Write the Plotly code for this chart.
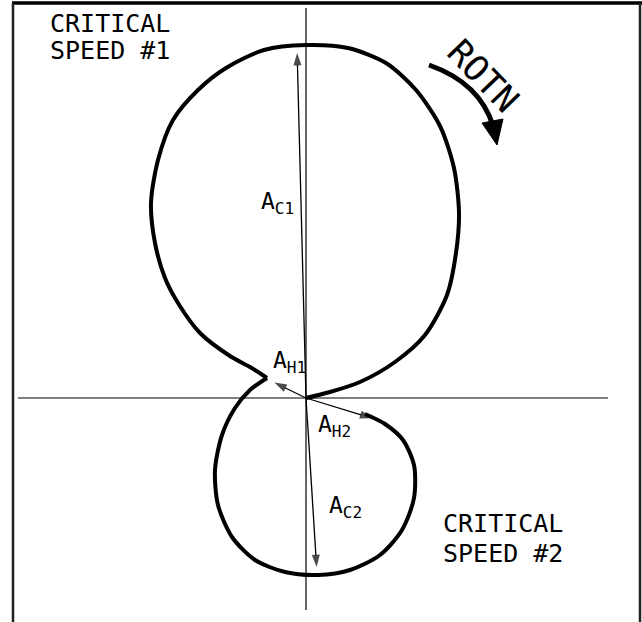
import plotly.graph_objects as go

# Polar (Nyquist) response of the shaft: horizontal / vertical components, mils
upper_x = [0.00, 0.24, 0.54, 0.89, 1.19, 1.41, 1.50, 1.53, 1.48, 1.34, 1.10, 0.80, 0.42, 0.00,
           -0.42, -0.80, -1.08, -1.33, -1.48, -1.55, -1.51, -1.41, -1.28, -1.06, -0.76, -0.56, -0.39]
upper_y = [0.00, 0.06, 0.16, 0.36, 0.63, 1.03, 1.45, 1.85, 2.30, 2.72, 3.08, 3.35, 3.50, 3.53,
           3.48, 3.30, 3.08, 2.78, 2.38, 1.95, 1.55, 1.20, 0.95, 0.65, 0.42, 0.31, 0.20]

lower_x = [-0.39, -0.56, -0.71, -0.84, -0.91, -0.88, -0.74, -0.51, -0.21, 0.12,
           0.44, 0.74, 0.96, 1.08, 1.08, 0.97, 0.79, 0.59]
lower_y = [0.20, 0.08, -0.10, -0.37, -0.72, -1.07, -1.39, -1.62, -1.74, -1.77,
           -1.72, -1.57, -1.32, -1.00, -0.67, -0.42, -0.26, -0.16]

# Response vectors (tip positions) at the critical speeds and half-power points
vec_names = ["A<sub>C1</sub>", "A<sub>C2</sub>", "A<sub>H1</sub>", "A<sub>H2</sub>"]
vec_x = [-0.09, 0.11, -0.37, 0.72]
vec_y = [3.51, -1.75, 0.18, -0.22]
lab_x = [-0.29, 0.39, -0.17, 0.28]
lab_y = [1.95, -1.09, 0.36, -0.28]

FONT = "DejaVu Sans Mono"

fig = go.Figure()
for xs, ys in ((upper_x, upper_y), (lower_x, lower_y)):
    fig.add_trace(go.Scatter(x=xs, y=ys, mode="lines",
                             line=dict(color="black", width=4, shape="spline", smoothing=0.8),
                             hoverinfo="skip", showlegend=False))

# Vectors from the origin, arrowhead at the tip
for vx, vy in zip(vec_x, vec_y):
    fig.add_trace(go.Scatter(
        x=[0, vx], y=[0, vy], mode="lines+markers",
        line=dict(color="black", width=1.3),
        marker=dict(symbol=["circle", "arrow"], size=[0, 13], color="black",
                    angleref="previous", standoff=6, line=dict(width=0)),
        hoverinfo="skip", showlegend=False))

# Reference axes through the origin
fig.add_shape(type="line", x0=-2.88, x1=3.02, y0=0, y1=0, line=dict(color="black", width=1.2))
fig.add_shape(type="line", x0=0, x1=0, y0=-2.12, y1=3.90, line=dict(color="black", width=1.2))

# Drawing frame
fig.add_shape(type="line", xref="paper", yref="paper", x0=12 / 642, x1=1, y0=1 - 3 / 622, y1=1 - 3 / 622,
              line=dict(color="black", width=3.5))
fig.add_shape(type="line", xref="paper", yref="paper", x0=13 / 642, x1=13 / 642, y0=0, y1=1 - 3 / 622,
              line=dict(color="#222", width=2.5))
fig.add_shape(type="line", xref="paper", yref="paper", x0=640 / 642, x1=640 / 642, y0=0, y1=1 - 3 / 622,
              line=dict(color="#222", width=2.5))

annotations = []
for name, lx, ly in zip(vec_names, lab_x, lab_y):
    annotations.append(dict(x=lx, y=ly, xref="x", yref="y", text=name, showarrow=False,
                            xanchor="center", yanchor="middle",
                            font=dict(family=FONT, size=23, color="black")))

# Critical speed captions, one annotation per line
captions = [("CRITICAL", -1.96, 3.745), ("SPEED #1", -1.96, 3.48),
            ("CRITICAL", 1.965, -1.25), ("SPEED #2", 1.965, -1.555)]
for txt, cx, cy in captions:
    annotations.append(dict(x=cx, y=cy, xref="x", yref="y", text=txt, showarrow=False,
                            xanchor="center", yanchor="middle",
                            font=dict(family=FONT, size=25, color="black")))

annotations.append(dict(x=1.77, y=3.22, xref="x", yref="y", text="ROTN", textangle=46,
                        showarrow=False, font=dict(family=FONT, size=35, color="black")))

# Direction-of-rotation arrow
fig.add_shape(type="path", path="M 1.23 3.33 Q 1.74 3.15 1.87 2.72",
              line=dict(color="black", width=5))
fig.add_shape(type="path", path="M 1.76 2.75 L 1.97 2.79 L 1.91 2.53 Z",
              fillcolor="black", line=dict(color="black", width=1))

fig.update_layout(
    width=642, height=622, margin=dict(l=0, r=0, t=0, b=0),
    paper_bgcolor="white", plot_bgcolor="white",
    xaxis=dict(range=[-3.06, 3.36], visible=False, fixedrange=True),
    yaxis=dict(range=[-2.24, 3.98], visible=False, fixedrange=True),
    annotations=annotations,
)

fig.write_html("out.html")
